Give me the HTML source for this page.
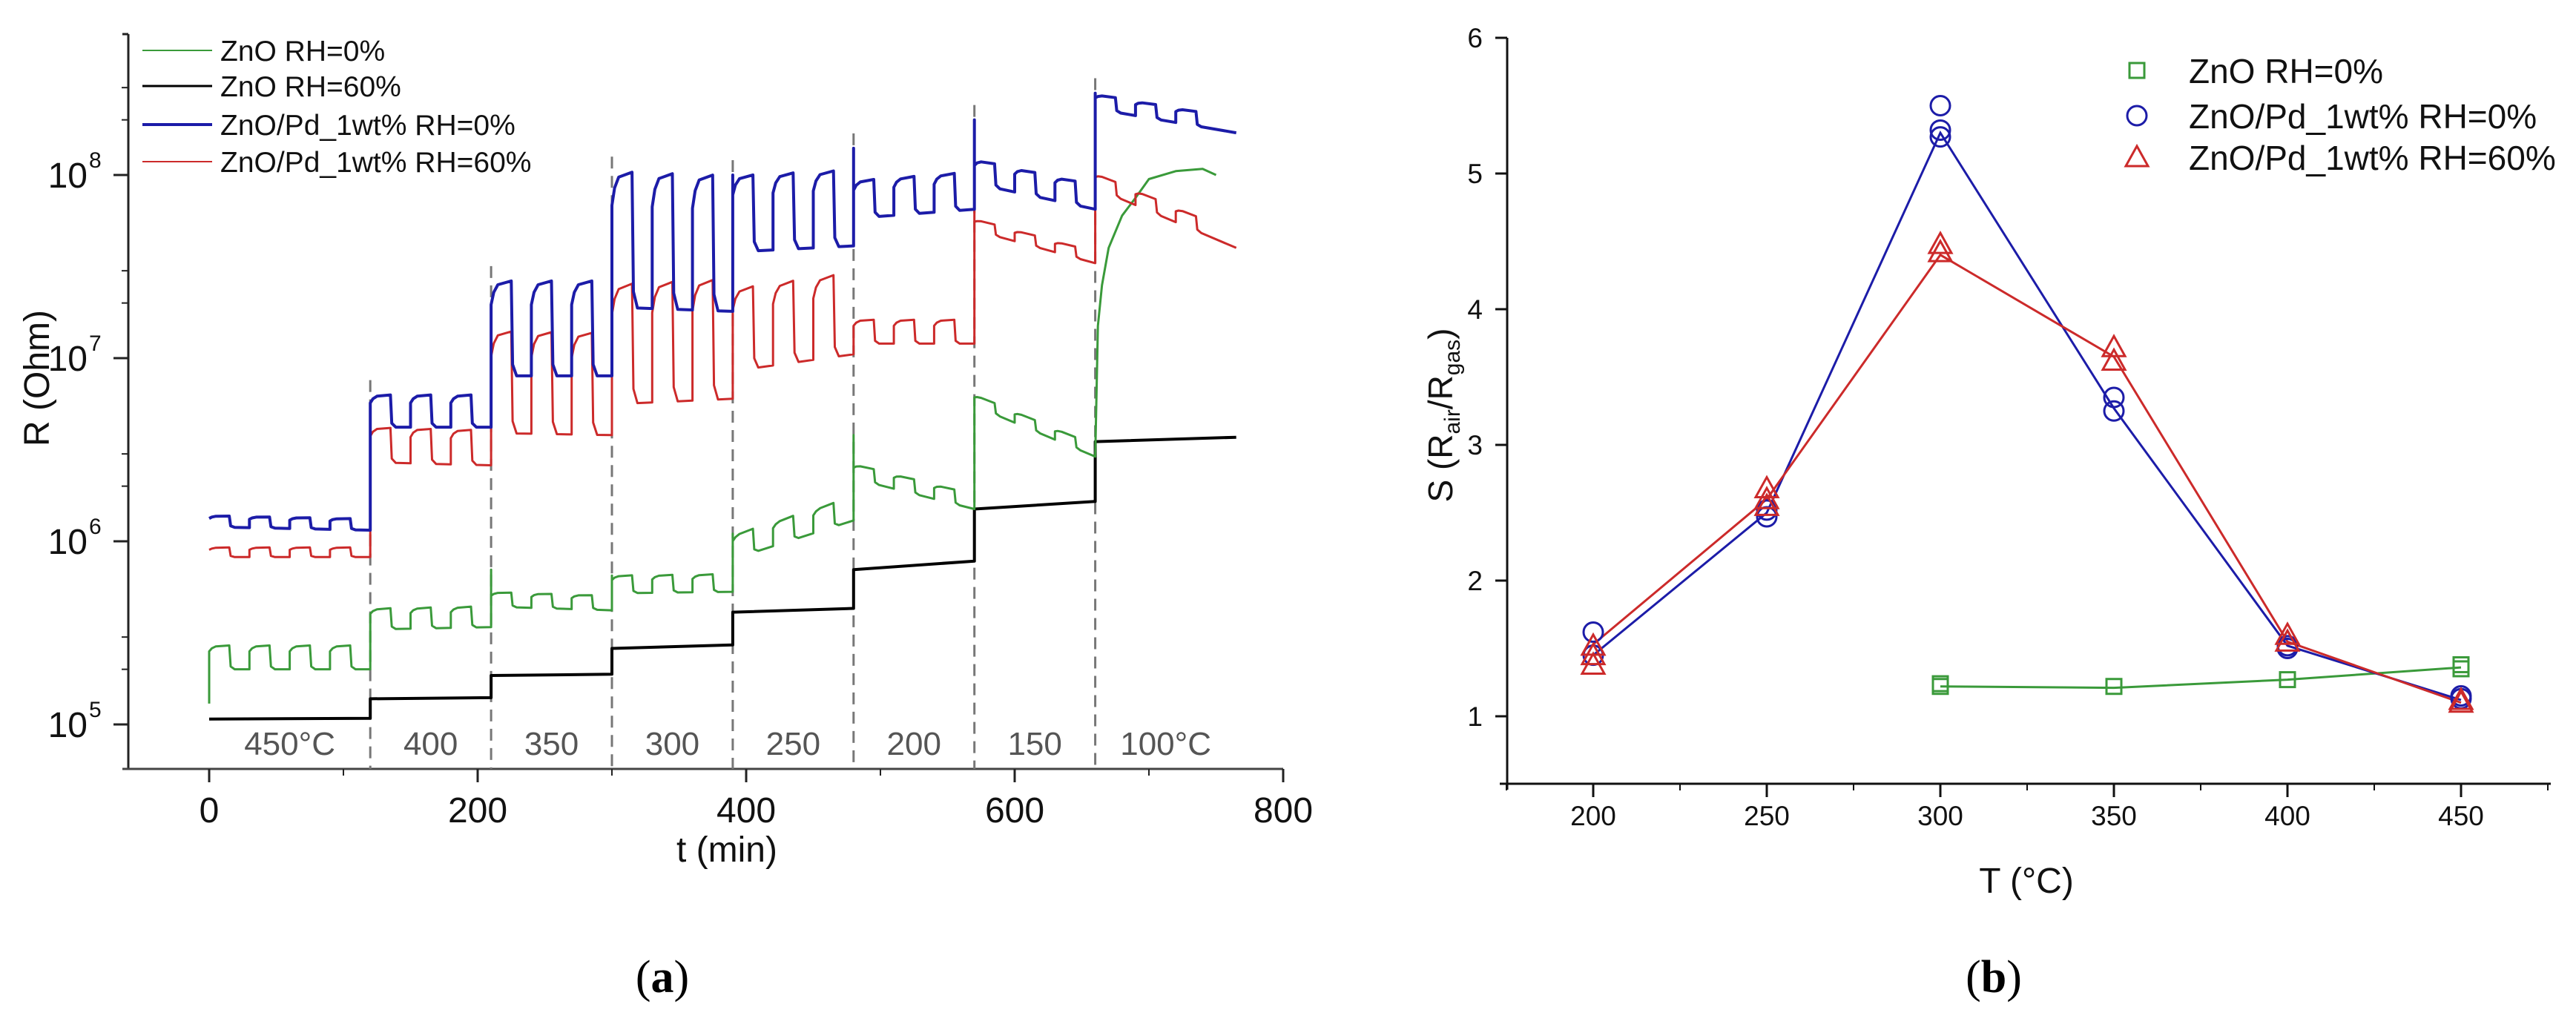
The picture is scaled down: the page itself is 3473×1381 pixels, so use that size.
<!DOCTYPE html>
<html><head><meta charset="utf-8"><style>
html,body{margin:0;padding:0;background:#fff;}
svg{display:block;}
text{font-family:"Liberation Sans",sans-serif;}
</style></head><body>
<svg id="fig" width="3473" height="1381" viewBox="0 0 3473 1381" xmlns="http://www.w3.org/2000/svg">
<g id="left"></g>
<g id="right"></g>
<text x="893" y="1338" font-size="62" text-anchor="middle" style="font-family:'Liberation Serif',serif">(<tspan font-weight="bold">a</tspan>)</text>
<text x="2688" y="1338" font-size="62" text-anchor="middle" style="font-family:'Liberation Serif',serif">(<tspan font-weight="bold">b</tspan>)</text>
</svg>
<script>
// ---------- Panel (a) data ----------
const windowBounds = [0,120,210,300,390,480,570,660,765];
const windowLabels = ["450°C","400","350","300","250","200","150","100°C"];
const xTicksA = [0,200,400,600,800];
const yDecadesA = [5,6,7,8];

const blueStart = [1.2e6,4.2e6,8.0e6,1.9e7,3.8e7,5.8e7,9.0e7,2.3e8];
const blueEnd   = [1.15e6,4.2e6,8.0e6,1.8e7,4.1e7,6.5e7,6.5e7,1.7e8];
const blueFactor= [1.15,1.5,3.3,5.5,2.6,1.6,1.35,1.2];
const blueSpike = [null,null,null,null,1.0e8,1.4e8,2.0e8,2.8e8];

const redStart  = [8.2e5,2.7e6,3.9e6,5.6e6,8.5e6,1.2e7,5.0e7,8.5e7];
const redEnd    = [8.2e5,2.6e6,3.8e6,6.0e6,1.05e7,1.2e7,3.3e7,4.0e7];
const redFactor = [1.13,1.55,3.6,4.5,2.8,1.35,1.15,1.2];
const redSpike  = [null,null,null,null,null,null,6.5e7,null];

const greenStart = [2.0e5,3.3e5,4.4e5,5.2e5,8.0e5,2.2e6,5.5e6];
const greenEnd   = [2.0e5,3.4e5,4.2e5,5.3e5,1.3e6,1.5e6,2.9e6];
const greenFactor= [1.35,1.3,1.2,1.25,1.35,1.2,1.15];
const greenSpike = [1.3e5,3.8e5,7.0e5,6.5e5,1.1e6,3.8e6,6.0e6];
const green100T  = [660,662,665,670,680,690,700,720,740,750];
const green100R  = [2.9e6,1.5e7,2.5e7,4.0e7,6.0e7,7.5e7,9.5e7,1.05e8,1.08e8,1.0e8];

const blackStart = [1.07e5,1.38e5,1.85e5,2.6e5,4.1e5,7.0e5,1.5e6,3.5e6];
const blackEnd   = [1.08e5,1.40e5,1.88e5,2.72e5,4.3e5,7.8e5,1.65e6,3.7e6];

// ---------- Panel (b) data ----------
const tempsB = [200,250,300,350,400,450];
const xTicksB = [200,250,300,350,400,450];
const yTicksB = [1,2,3,4,5,6];
const greenT = [300,350,400,450];
const greenLine = [1.22,1.21,1.27,1.36];
const greenPtsT = [300,300,350,400,450,450];
const greenPtsS = [1.22,1.24,1.22,1.27,1.35,1.38];
const blueLine = [1.45,2.5,5.3,3.27,1.52,1.12];
const bluePtsT = [200,200,250,250,300,300,300,350,350,400,400,450,450];
const bluePtsS = [1.62,1.45,2.47,2.52,5.5,5.32,5.27,3.35,3.25,1.5,1.52,1.13,1.15];
const redLine = [1.53,2.6,4.4,3.65,1.55,1.1];
const redPtsT = [200,200,200,250,250,250,300,300,350,350,400,400,450,450];
const redPtsS = [1.38,1.45,1.52,2.6,2.68,2.55,4.42,4.48,3.62,3.72,1.55,1.6,1.1,1.12];

const NS="http://www.w3.org/2000/svg";
function mk(parent,tag,attrs){const e=document.createElementNS(NS,tag);for(const k in attrs)e.setAttribute(k,attrs[k]);parent.appendChild(e);return e;}

// ---------- Panel (a) ----------
const L=document.getElementById('left');
const xA=t=>282+t*1.81;
const yA=r=>236+(8-Math.log10(r))*247;
const AX0=173, AY0=1037, AYT=46, AXR=1730;
const CG="#3a9a3a", CK="#000", CB="#1c1ca8", CR="#cc2a2a";

let e;
e=mk(L,'line',{x1:AX0,y1:AYT,x2:AX0,y2:AY0,stroke:'#222','stroke-width':3});


e=mk(L,'line',{x1:AX0-8,y1:AY0,x2:AXR,y2:AY0,stroke:'#444','stroke-width':3});


mk(L,'line',{x1:AX0-8,y1:AYT,x2:AX0,y2:AYT,stroke:'#222','stroke-width':3});

xTicksA.forEach(v=>{
  const x=xA(v);
  mk(L,'line',{x1:x,y1:AY0,x2:x,y2:AY0+18,stroke:'#222','stroke-width':3});
  const t=mk(L,'text',{x:x,y:AY0+72,'font-size':48,'text-anchor':'middle',fill:'#111'});
  t.textContent=v;
  
  
  if(v<800) mk(L,'line',{x1:xA(v+100),y1:AY0,x2:xA(v+100),y2:AY0+9,stroke:'#222','stroke-width':2});
});
yDecadesA.forEach(d=>{
  const y=yA(Math.pow(10,d));
  mk(L,'line',{x1:AX0-20,y1:y,x2:AX0,y2:y,stroke:'#222','stroke-width':3});
  [2,3].forEach(m=>{const ym=yA(m*Math.pow(10,d));if(ym>AYT)mk(L,'line',{x1:AX0-9,y1:ym,x2:AX0,y2:ym,stroke:'#222','stroke-width':2});});
  const t=mk(L,'text',{x:118,y:y+17,'font-size':48,'text-anchor':'end',fill:'#111'});
  t.textContent='10';
  
  
  const s=mk(L,'text',{x:120,y:y-10,'font-size':30,fill:'#111'});
  s.textContent=String(d);
});
e=mk(L,'text',{x:0,y:0,'font-size':48,'text-anchor':'middle',fill:'#111',transform:'translate(66,510) rotate(-90)'});
e.textContent='R (Ohm)';


e=mk(L,'text',{x:980,y:1162,'font-size':48,'text-anchor':'middle',fill:'#111'});
e.textContent='t (min)';



for(let i=1;i<windowBounds.length-1;i++){
  const tb=windowBounds[i];
  const top=Math.min(yA(blueStart[i]*blueFactor[i]), blueSpike[i]?yA(blueSpike[i]):9999)-20;
  e=mk(L,'line',{x1:xA(tb),y1:top,x2:xA(tb),y2:AY0,stroke:'#777','stroke-width':3,'stroke-dasharray':'16,10'});
  
  
}
windowLabels.forEach((lab,i)=>{
  const tc=(windowBounds[i]+windowBounds[i+1])/2;
  const t=mk(L,'text',{x:xA(tc),y:1018,'font-size':44,'text-anchor':'middle',fill:'#555'});
  t.textContent=lab;
  
  
});

function logInterp(a,b,f){return Math.pow(10,Math.log10(a)+(Math.log10(b)-Math.log10(a))*f);}
function buildSeries(starts,ends,factors,spikes,nWin,tEnd){
  const pts=[];
  for(let i=0;i<nWin;i++){
    const t0=windowBounds[i], t1=Math.min(windowBounds[i+1],tEnd);
    const base=t=>logInterp(starts[i],ends[i],(t-t0)/(t1-t0));
    if(spikes&&spikes[i]) pts.push([t0,spikes[i]]);
    const n=factors?Math.floor((t1-t0)/30):0;
    let cur=t0;
    for(let k=0;k<n;k++){
      const ta=t0+30*k, tb=ta+15;
      const f=factors[i];
      if(ta>cur) pts.push([ta,base(ta)]);
      pts.push([ta,base(ta)*Math.pow(f,0.75)]);
      pts.push([ta+2,base(ta+2)*Math.pow(f,0.88)]);
      pts.push([ta+5,base(ta+5)*Math.pow(f,0.96)]);
      pts.push([tb,base(tb)*f]);
      pts.push([tb+1,base(tb+1)*Math.pow(f,0.12)]);
      pts.push([tb+4,base(tb+4)]);
      cur=tb+4;
    }
    if(n===0) pts.push([t0,base(t0)]);
    pts.push([t1,base(t1)]);
  }
  return pts;
}
function drawPolyline(pts,color,w,name){
  const d=pts.map((p,i)=>(i?'L':'M')+xA(p[0]).toFixed(1)+','+yA(p[1]).toFixed(1)).join('');
  const p=mk(L,'path',{d:d,fill:'none',stroke:color,'stroke-width':w,'stroke-linejoin':'round'});
  
  
}
drawPolyline(buildSeries(blackStart,blackEnd,null,null,8,765),CK,4,'line-zno-rh60');
const gp=buildSeries(greenStart,greenEnd,greenFactor,greenSpike,7,660);
green100T.forEach((t,i)=>gp.push([t,green100R[i]]));
drawPolyline(gp,CG,3,'line-zno-rh0');
drawPolyline(buildSeries(redStart,redEnd,redFactor,redSpike,8,765),CR,3,'line-znopd-rh60');
drawPolyline(buildSeries(blueStart,blueEnd,blueFactor,blueSpike,8,765),CB,4,'line-znopd-rh0');

const legA=[["ZnO RH=0%",CG,2],["ZnO RH=60%",CK,3],["ZnO/Pd_1wt% RH=0%",CB,4],["ZnO/Pd_1wt% RH=60%",CR,2]];
const legAY=[68,116,168,218];
legA.forEach((l,i)=>{
  const g=mk(L,'g',{});
  
  
  mk(g,'line',{x1:192,y1:legAY[i],x2:286,y2:legAY[i],stroke:l[1],'stroke-width':l[2]});
  const t=mk(g,'text',{x:297,y:legAY[i]+14,'font-size':39,fill:'#111'});
  t.textContent=l[0];
});

// ---------- Panel (b) ----------
const R=document.getElementById('right');
const xB=T=>2148+(T-200)*4.68;
const yB=S=>966-(S-1)*183;
const BX0=2032, BY0=1057, BXR=3439, BYT=yB(6);
e=mk(R,'line',{x1:BX0,y1:BYT,x2:BX0,y2:BY0+8,stroke:'#111','stroke-width':3});


e=mk(R,'line',{x1:BX0-10,y1:BY0,x2:BXR,y2:BY0,stroke:'#111','stroke-width':3});


xTicksB.forEach(v=>{
  const x=xB(v);
  mk(R,'line',{x1:x,y1:BY0,x2:x,y2:BY0+18,stroke:'#111','stroke-width':3});
  mk(R,'line',{x1:xB(v+25),y1:BY0,x2:xB(v+25),y2:BY0+9,stroke:'#111','stroke-width':2});
  const t=mk(R,'text',{x:x,y:BY0+56,'font-size':37,'text-anchor':'middle',fill:'#111'});
  t.textContent=v;
  
  
});
mk(R,'line',{x1:xB(175),y1:BY0,x2:xB(175),y2:BY0+9,stroke:'#111','stroke-width':2});
yTicksB.forEach(v=>{
  const y=yB(v);
  mk(R,'line',{x1:BX0-16,y1:y,x2:BX0,y2:y,stroke:'#111','stroke-width':3});
  const t=mk(R,'text',{x:1999,y:y+13,'font-size':37,'text-anchor':'end',fill:'#111'});
  t.textContent=v;
  
  
});
e=mk(R,'text',{x:2732,y:1204,'font-size':48,'text-anchor':'middle',fill:'#111'});
e.textContent='T (°C)';


e=mk(R,'text',{x:0,y:0,'font-size':46,'text-anchor':'middle',fill:'#111',transform:'translate(1958,560) rotate(-90)'});
e.innerHTML='S (R<tspan font-size="30" dy="10">air</tspan><tspan dy="-10">/R</tspan><tspan font-size="30" dy="10">gas</tspan><tspan dy="-10">)</tspan>';



function lineB(Ts,Ss,color,name){
  const d=Ts.map((T,i)=>(i?'L':'M')+xB(T).toFixed(1)+','+yB(Ss[i]).toFixed(1)).join('');
  const p=mk(R,'path',{d:d,fill:'none',stroke:color,'stroke-width':3});
  
  
}
function marker(g,type,x,y,color){
  if(type==='sq') return mk(g,'rect',{x:x-10,y:y-10,width:20,height:20,fill:'none',stroke:color,'stroke-width':3});
  if(type==='ci') return mk(g,'circle',{cx:x,cy:y,r:13,fill:'none',stroke:color,'stroke-width':3});
  return mk(g,'path',{d:`M${x},${y-15}L${x+15},${y+12}L${x-15},${y+12}Z`,fill:'none',stroke:color,'stroke-width':3});
}
lineB(greenT,greenLine,CG,'line-b-zno-rh0');
lineB(tempsB,blueLine,CB,'line-b-znopd-rh0');
lineB(tempsB,redLine,CR,'line-b-znopd-rh60');
greenPtsT.forEach((T,i)=>{const m=marker(R,'sq',xB(T),yB(greenPtsS[i]),CG);
  
  });
bluePtsT.forEach((T,i)=>{const m=marker(R,'ci',xB(T),yB(bluePtsS[i]),CB);
  
  });
redPtsT.forEach((T,i)=>{const m=marker(R,'tr',xB(T),yB(redPtsS[i]),CR);
  
  });

const legB=[["ZnO RH=0%",'sq',CG],["ZnO/Pd_1wt% RH=0%",'ci',CB],["ZnO/Pd_1wt% RH=60%",'tr',CR]];
const legBY=[95,156,212];
legB.forEach((l,i)=>{
  const g=mk(R,'g',{});
  
  
  marker(g,l[1],2881,legBY[i],l[2]);
  const t=mk(g,'text',{x:2951,y:legBY[i]+17,'font-size':46,fill:'#111'});
  t.textContent=l[0];
});
</script>
</body></html>
